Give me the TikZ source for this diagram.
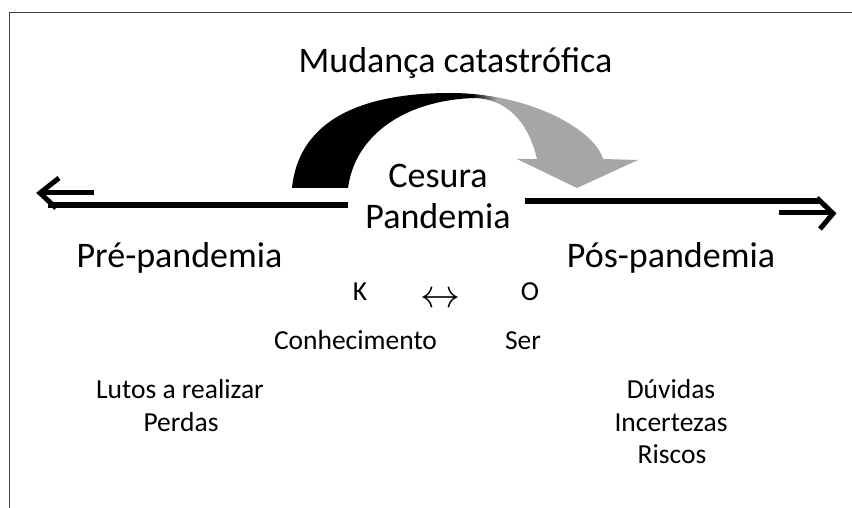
\RequirePackage{fix-cm}
\documentclass[tikz,border=0pt]{standalone}
\usepackage{fontspec}
\setmainfont{Carlito}
\definecolor{arrowgray}{HTML}{A6A6A6}
\definecolor{framegray}{HTML}{404040}
\begin{document}
\begin{tikzpicture}[x=1pt,y=-1pt,
  big/.style={anchor=base,inner sep=0pt,font=\fontsize{36}{40}\selectfont},
  small/.style={anchor=base,inner sep=0pt,font=\fontsize{27.5}{30}\selectfont},
  thickline/.style={line width=5.5pt,black},
  chev/.style={line width=5pt,black,miter limit=10}]
\useasboundingbox (0,0) rectangle (852,508);
% frame
\draw[framegray,line width=1.3pt] (9.5,508) -- (9.5,12.5) -- (852,12.5);
% timeline lines
\coordinate (L1) at (48,205);
\coordinate (L2) at (348,205);
\coordinate (R1) at (525,201);
\coordinate (R2) at (819,201);
\draw[thickline] (L1) -- (L2);
\draw[thickline] (R1) -- (R2);
% left arrow
\coordinate (la1) at (94,193);
\coordinate (la2) at (41,193);
\draw[chev] (la1) -- (la2);
\draw[chev] (59,178) -- (40,193) -- (56,208);
% right arrow
\coordinate (ra1) at (779,213);
\coordinate (ra2) at (831,213);
\draw[chev] (ra1) -- (ra2);
\draw[chev] (817,198) -- (833,213.5) -- (820,229);
% curved arrow
\begin{scope}
\clip (292,188) .. controls (300,110) and (380,93) .. (450,93)
  .. controls (530,93) and (595,130) .. (603,159)
  -- (638,160) -- (577,188) -- (517,159) -- (537,159)
  .. controls (528,120) and (505,99) .. (475,98)
  .. controls (405,100) and (355,135) .. (348,188) -- cycle;
\fill[black] (280,80) rectangle (473,200);
\shade[left color=black,right color=arrowgray] (472,80) rectangle (497,200);
\fill[arrowgray] (496,80) rectangle (650,200);
\end{scope}
% texts
\node[big] (mud) at (455.5,73) {Mudança catastrófica};
\node[big] (ces) at (438,188) {Cesura};
\node[big] (pan) at (438,229) {Pandemia};
\node[big] (pre) at (179.5,267) {Pré-pandemia};
\node[big] (pos) at (671,267) {Pós-pandemia};
\node[small] (K) at (360,300.5) {K};
\node[small] (O) at (530,300.5) {O};
\node[anchor=base,inner sep=0pt,font=\fontsize{40}{44}\selectfont] (lr) at (440,307) {$\leftrightarrow$};
\node[small] (con) at (355.5,349) {Conhecimento};
\node[small] (ser) at (523,349) {Ser};
\node[small] (lut) at (180,398) {Lutos a realizar};
\node[small] (per) at (181,431.5) {Perdas};
\node[small] (duv) at (671,398) {Dúvidas};
\node[small] (inc) at (671,431.5) {Incertezas};
\node[small] (ris) at (672,463.5) {Riscos};
\end{tikzpicture}
\end{document}
